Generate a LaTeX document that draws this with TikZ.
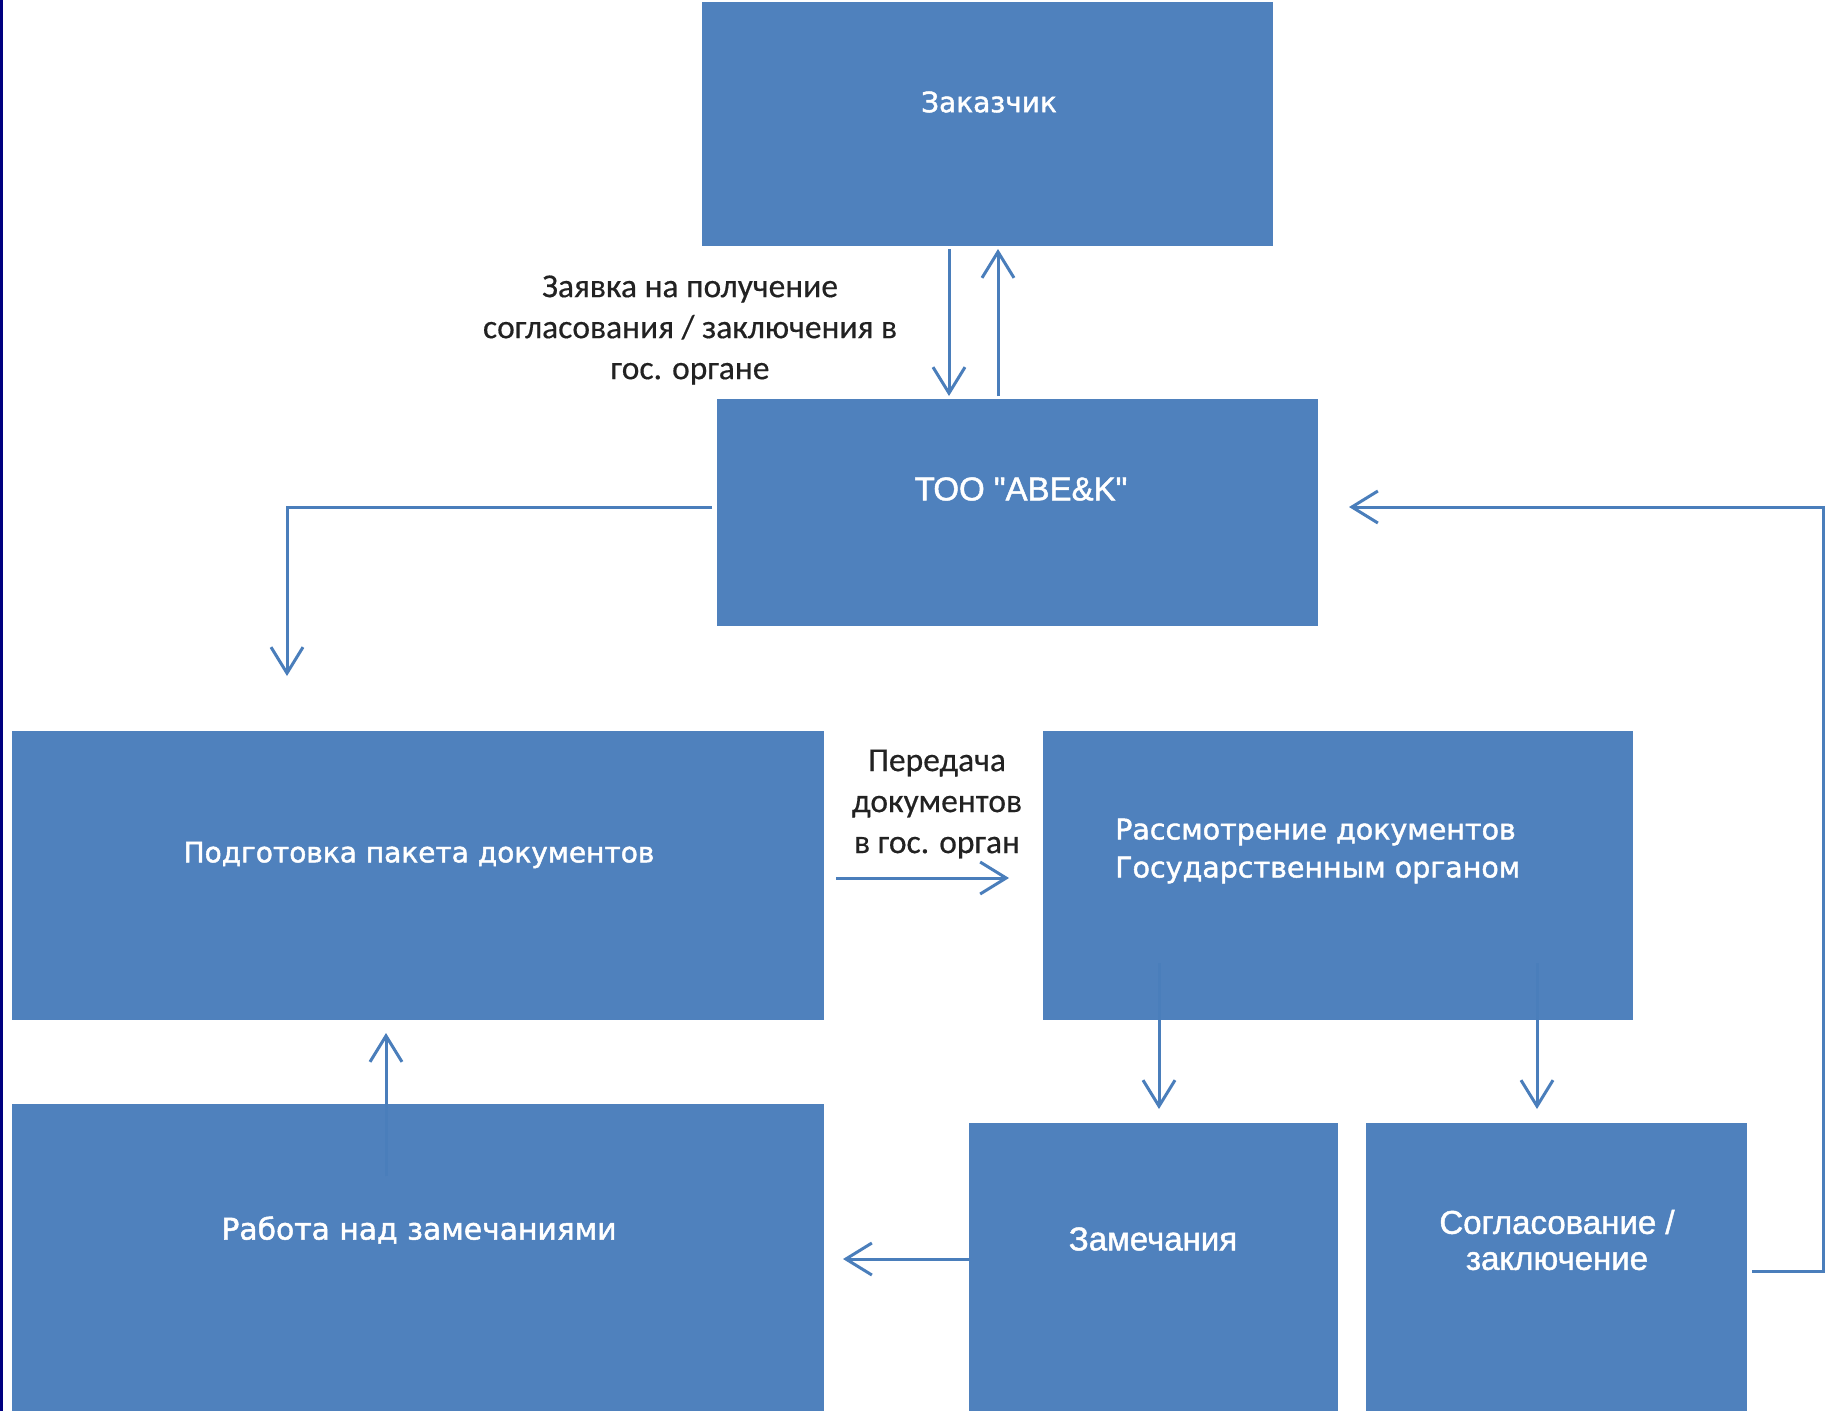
\documentclass[tikz,border=0pt]{standalone}
\usepackage{fontspec}
\setmainfont{DejaVu Sans}[FakeBold=1.6]
\newfontfamily\libsans{Liberation Sans}[FakeBold=1.4]
\newfontfamily\carl{Carlito}[FakeBold=0.4]
\usetikzlibrary{arrows.meta,calc}
\definecolor{boxblue}{HTML}{4F81BD}
\definecolor{arrblue}{HTML}{4A7EBB}
\definecolor{navy}{HTML}{000080}
\definecolor{labgray}{HTML}{222222}
\begin{document}
\begin{tikzpicture}[x=1pt,y=-1pt,
  box/.style={fill=boxblue, draw=none, inner sep=0pt, outer sep=0pt, anchor=north west},
  wt/.style={text=white, inner sep=0pt, align=center, font=\fontsize{28}{34}\selectfont},
  wta/.style={text=white, inner sep=0pt, align=center, font=\libsans\fontsize{33}{36}\selectfont},
  lab/.style={text=labgray, inner sep=0pt, align=center, font=\carl\fontsize{33.5}{41}\selectfont},
  arr/.style={draw=arrblue, line width=3pt, -{Straight Barb[length=26pt,width=32pt]}}]
\useasboundingbox (0,0) rectangle (1835,1411);
\fill[white] (0,0) rectangle (1835,1411);
\fill[navy] (0,0) rectangle (3,1411);

% boxes
\node[box, minimum width=571pt, minimum height=244pt] (zak) at (702,2) {};
\node[box, minimum width=601pt, minimum height=227pt] (too) at (717,399) {};
\node[box, minimum width=812pt, minimum height=289pt] (podg) at (12,731) {};
\node[box, minimum width=590pt, minimum height=289pt] (rass) at (1043,731) {};
\node[box, minimum width=812pt, minimum height=307pt] (rab) at (12,1104) {};
\node[box, minimum width=369pt, minimum height=288pt] (zam) at (969,1123) {};
\node[box, minimum width=381pt, minimum height=288pt] (sogl) at (1366,1123) {};

% box texts
\node[wt] (tzak) at (989,102) {Заказчик};
\node[wta, font=\libsans\fontsize{33}{38}\selectfont] (ttoo) at (1021,489) {ТОО "ABE\&K"};
\node[wt] (tpodg) at (419,855) {Подготовка пакета документов};
\node[wt, align=left, anchor=west, font=\fontsize{28.5}{38}\selectfont] (trass) at (1115,851) {Рассмотрение документов\\Государственным органом};
\node[wt, font=\fontsize{29.8}{34}\selectfont] (trab) at (419,1230) {Работа над замечаниями};
\node[wta] (tzam) at (1153,1239) {Замечания};
\node[wta] (tsogl) at (1557,1240) {Согласование /\\заключение};

% labels
\node[lab] (l1) at (690,330) {Заявка на получение\\согласования / заключения в\\гос. органе};
\node[lab] (l2) at (937,804) {Передача\\документов\\в гос. орган};

% connectors
\draw[arr] ($(zak.south)+(-38.5,3)$) -- ($(zak.south |- too.north)+(-38.5,-3)$);
\draw[arr] ($(zak.south |- too.north)+(10.5,-3)$) -- ($(zak.south)+(10.5,3)$);
\coordinate (c1) at (287,676);
\draw[arr] ($(too.west)+(-5,-5.5)$) -| (c1);
\coordinate (c2) at (1823,507);
\draw[arr] ($(sogl.east)+(5,4)$) -| (c2) -- ($(too.east |- c2)+(31,0)$);
\draw[arr] ($(podg.east)+(12,2.5)$) -- ($(rass.west)+(-34,2.5)$);
\draw[arr] ($(rass.south)+(-179,-57)$) -- ($(zam.north)+(5.5,-14)$);
\draw[arr] ($(rass.south)+(199,-57)$) -- ($(sogl.north)+(-19.5,-14)$);
\draw[arr] ($(zam.west)+(0,-8)$) -- ($(rab.east)+(19,1.5)$);
\draw[arr] ($(rab.north)+(-32,72)$) -- ($(podg.south)+(-32,13)$);
\end{tikzpicture}
\end{document}
